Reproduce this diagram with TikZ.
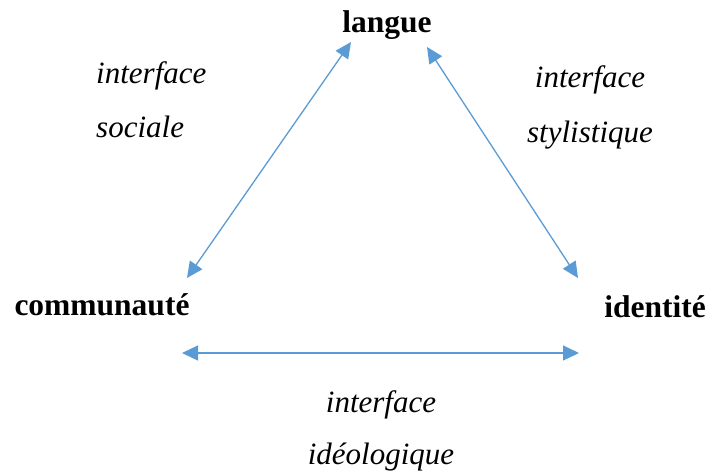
\documentclass[tikz,border=0pt]{standalone}
\usepackage{fontspec}
\setmainfont{Liberation Serif}
\usetikzlibrary{arrows.meta}
\definecolor{linkblue}{HTML}{5B9BD5}
\tikzset{
  concept/.style={
    font=\fontsize{31.5}{54}\selectfont\bfseries,
    inner sep=0pt,
    anchor=base
  },
  iface/.style={
    font=\fontsize{31}{54}\selectfont\itshape,
    inner sep=0pt,
    anchor=base
  },
  link/.style={
    draw=linkblue,
    line width=1.3pt,
    {Triangle[length=16pt,width=15pt]}-{Triangle[length=16pt,width=15pt]}
  }
}

\begin{document}
\begin{tikzpicture}[x=1pt,y=-1pt]
  \useasboundingbox (0,0) rectangle (710,475);
  % the three poles
  \node[concept] (lang) at (387,32) {langue};
  \node[concept] (comm) at (102,315) {communauté};
  \node[concept] (iden) at (655,317) {identité};
  % labels of the sides
  \node[iface,anchor=base west] (soc1) at (96,83) {interface};
  \node[iface,anchor=base west] (soc2) at (96,137) {sociale};
  \node[iface] (sty1) at (590,87) {interface};
  \node[iface] (sty2) at (590,142) {stylistique};
  \node[iface] (ideo1) at (381,412) {interface};
  \node[iface] (ideo2) at (381,464) {idéologique};
  % arrow ends
  \coordinate (lang-w) at (351,42);
  \coordinate (lang-e) at (427,47);
  \coordinate (comm-n) at (187,278);
  \coordinate (comm-e) at (182,353);
  \coordinate (iden-n) at (578,278);
  \coordinate (iden-w) at (579,353);
  \draw[link] (lang-w) -- (comm-n);
  \draw[link] (lang-e) -- (iden-n);
  \draw[link] (comm-e) -- (iden-w);
\end{tikzpicture}
\end{document}
